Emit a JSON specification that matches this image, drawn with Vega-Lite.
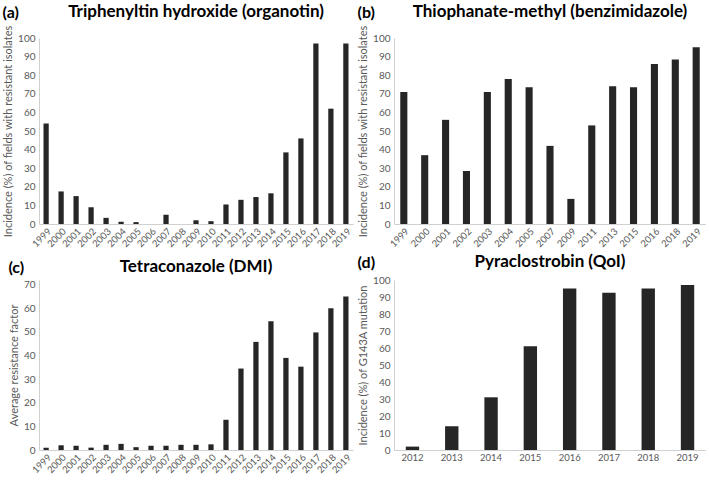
{
  "$schema": "https://vega.github.io/schema/vega-lite/v6.json",
  "padding": {"left": 2, "top": 3, "right": 0, "bottom": 1},
  "background": "white",
  "config": {
    "view": {"stroke": null},
    "font": "Lato",
    "axis": {"labelFont": "Lato", "labelColor": "#595959", "labelFontSize": 10, "titleFont": "Lato", "titleFontSize": 11, "titleFontWeight": "normal", "titleColor": "#595959", "domainColor": "#d0d0d0", "ticks": false, "grid": false, "labelPadding": 4, "titlePadding": 4},
    "axisX": {"labelAngle": -45, "title": null, "labelPadding": 2, "labelFontSize": 9.5},
    "bar": {"color": "#262626"},
    "title": {"font": "Lato", "fontSize": 17, "fontWeight": "bold", "color": "#000000"},
    "concat": {"spacing": 4}
  },
  "datasets": {
    "a": [
      {"year": "1999", "v": 54}, {"year": "2000", "v": 17.5}, {"year": "2001", "v": 15}, {"year": "2002", "v": 9},
      {"year": "2003", "v": 3.3}, {"year": "2004", "v": 1.2}, {"year": "2005", "v": 1}, {"year": "2006", "v": 0},
      {"year": "2007", "v": 5}, {"year": "2008", "v": 0}, {"year": "2009", "v": 2}, {"year": "2010", "v": 1.5},
      {"year": "2011", "v": 10.5}, {"year": "2012", "v": 13}, {"year": "2013", "v": 14.5}, {"year": "2014", "v": 16.5},
      {"year": "2015", "v": 38.5}, {"year": "2016", "v": 46}, {"year": "2017", "v": 97}, {"year": "2018", "v": 62}, {"year": "2019", "v": 97}
    ],
    "b": [
      {"year": "1999", "v": 71}, {"year": "2000", "v": 37}, {"year": "2001", "v": 56}, {"year": "2002", "v": 28.5},
      {"year": "2003", "v": 71}, {"year": "2004", "v": 78}, {"year": "2005", "v": 73.5}, {"year": "2007", "v": 42},
      {"year": "2009", "v": 13.5}, {"year": "2011", "v": 53}, {"year": "2013", "v": 74}, {"year": "2015", "v": 73.5},
      {"year": "2016", "v": 86}, {"year": "2018", "v": 88.5}, {"year": "2019", "v": 95}
    ],
    "c": [
      {"year": "1999", "v": 1}, {"year": "2000", "v": 2}, {"year": "2001", "v": 1.8}, {"year": "2002", "v": 1},
      {"year": "2003", "v": 2.2}, {"year": "2004", "v": 2.6}, {"year": "2005", "v": 1.2}, {"year": "2006", "v": 1.8},
      {"year": "2007", "v": 1.8}, {"year": "2008", "v": 2.2}, {"year": "2009", "v": 2.2}, {"year": "2010", "v": 2.4},
      {"year": "2011", "v": 12.8}, {"year": "2012", "v": 34.5}, {"year": "2013", "v": 45.8}, {"year": "2014", "v": 54.5},
      {"year": "2015", "v": 39}, {"year": "2016", "v": 35.3}, {"year": "2017", "v": 49.8}, {"year": "2018", "v": 60}, {"year": "2019", "v": 65}
    ],
    "d": [
      {"year": "2012", "v": 2}, {"year": "2013", "v": 14}, {"year": "2014", "v": 31}, {"year": "2015", "v": 61},
      {"year": "2016", "v": 95}, {"year": "2017", "v": 92.5}, {"year": "2018", "v": 95}, {"year": "2019", "v": 97}
    ]
  },
  "concat": [
    {
      "title": {"text": "(a)", "anchor": "start", "frame": "bounds", "fontSize": 16, "offset": -18},
      "vconcat": [{
        "data": {"name": "a"},
        "title": {"text": "Triphenyltin hydroxide (organotin)", "anchor": "middle", "offset": 4},
        "width": 314, "height": 186,
        "mark": {"type": "bar"},
        "encoding": {
          "x": {"field": "year", "type": "nominal", "sort": null, "scale": {"paddingInner": 0.65, "paddingOuter": 0.3}},
          "y": {"field": "v", "type": "quantitative", "scale": {"domain": [0, 100]}, "axis": {"values": [0,10,20,30,40,50,60,70,80,90,100], "title": "Incidence (%) of fields with resistant isolates"}}
        }
      }]
    },
    {
      "title": {"text": "(b)", "anchor": "start", "frame": "bounds", "fontSize": 16, "offset": -18},
      "vconcat": [{
        "data": {"name": "b"},
        "title": {"text": "Thiophanate-methyl (benzimidazole)", "anchor": "middle", "offset": 4},
        "width": 312, "height": 186,
        "mark": {"type": "bar"},
        "encoding": {
          "x": {"field": "year", "type": "nominal", "sort": null, "scale": {"paddingInner": 0.66, "paddingOuter": 0.3}},
          "y": {"field": "v", "type": "quantitative", "scale": {"domain": [0, 100]}, "axis": {"values": [0,10,20,30,40,50,60,70,80,90,100], "title": "Incidence (%) of fields with resistant isolates"}}
        }
      }]
    },
    {
      "title": {"text": "(c)", "anchor": "start", "frame": "bounds", "fontSize": 16, "offset": -18},
      "vconcat": [{
        "data": {"name": "c"},
        "title": {"text": "Tetraconazole (DMI)", "anchor": "middle", "offset": 4},
        "width": 314, "height": 170,
        "mark": {"type": "bar"},
        "encoding": {
          "x": {"field": "year", "type": "nominal", "sort": null, "scale": {"paddingInner": 0.65, "paddingOuter": 0.3}},
          "y": {"field": "v", "type": "quantitative", "scale": {"domain": [0, 72]}, "axis": {"values": [0,10,20,30,40,50,60,70], "title": "Average resistance factor"}}
        }
      }]
    },
    {
      "title": {"text": "(d)", "anchor": "start", "frame": "bounds", "fontSize": 16, "offset": -18},
      "vconcat": [{
        "data": {"name": "d"},
        "title": {"text": "Pyraclostrobin (QoI)", "anchor": "middle", "offset": 4},
        "width": 312, "height": 170,
        "mark": {"type": "bar"},
        "encoding": {
          "x": {"field": "year", "type": "nominal", "sort": null, "axis": {"labelAngle": 0}, "scale": {"paddingInner": 0.66, "paddingOuter": 0.3}},
          "y": {"field": "v", "type": "quantitative", "scale": {"domain": [0, 100]}, "axis": {"values": [0,10,20,30,40,50,60,70,80,90,100], "title": "Incidence (%) of G143A mutation"}}
        }
      }]
    }
  ],
  "columns": 2
}
